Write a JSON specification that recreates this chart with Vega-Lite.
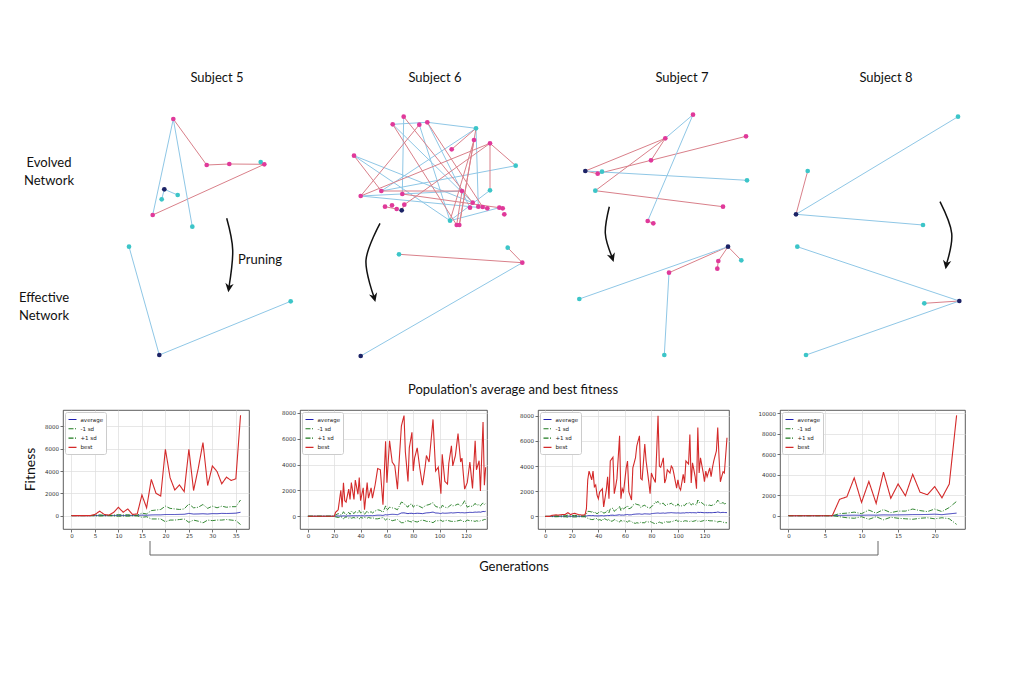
{
"$schema": "https://vega.github.io/schema/vega-lite/v6.json",
"padding": 0,
"background": "white",
"config": {
  "view": {"stroke": null},
  "font": "Lato",
  "axis": {"labelFont": "DejaVu Sans", "labelFontSize": 5.5, "labelColor": "#333333", "tickColor": "#333333", "tickSize": 3, "tickWidth": 0.7, "domain": false, "gridColor": "#dcdcdc", "gridWidth": 0.7, "labelPadding": 1.5},
  "legend": {"orient": "top-left", "offset": 1.5, "fillColor": "white", "strokeColor": "#cccccc", "padding": 2.5, "cornerRadius": 2, "labelFontSize": 5.5, "labelFont": "DejaVu Sans", "labelColor": "#222222", "symbolType": "stroke", "symbolSize": 64, "symbolStrokeWidth": 1.1, "rowPadding": 0.3, "labelOffset": 3}
},
"resolve": {"scale": {"color": "independent", "strokeDash": "independent", "stroke": "independent", "fill": "independent"}},
"datasets": {
  "s5_nodes": [
    {"x":53.3,"y":119,"role":"hidden"},{"x":86.7,"y":165,"role":"hidden"},{"x":109.3,"y":164,"role":"hidden"},
    {"x":140.7,"y":162,"role":"input"},{"x":144.3,"y":164.3,"role":"hidden"},{"x":44.3,"y":189.3,"role":"output"},
    {"x":41.7,"y":199.3,"role":"input"},{"x":57.7,"y":195,"role":"input"},{"x":32.7,"y":215,"role":"hidden"},
    {"x":72.3,"y":226.7,"role":"input"},{"x":9,"y":246.7,"role":"input"},{"x":39.3,"y":355,"role":"output"},
    {"x":170.7,"y":301.3,"role":"input"}
  ],
  "s5_edges": [
    {"x":53.3,"y":119,"x2":86.7,"y2":165,"weight":"positive"},
    {"x":86.7,"y":165,"x2":109.3,"y2":164,"weight":"positive"},
    {"x":109.3,"y":164,"x2":144.3,"y2":164.3,"weight":"positive"},
    {"x":144.3,"y":164.3,"x2":32.7,"y2":215,"weight":"positive"},
    {"x":53.3,"y":119,"x2":32.7,"y2":215,"weight":"negative"},
    {"x":53.3,"y":119,"x2":72.3,"y2":226.7,"weight":"negative"},
    {"x":44.3,"y":189.3,"x2":57.7,"y2":195,"weight":"negative"},
    {"x":44.3,"y":189.3,"x2":41.7,"y2":199.3,"weight":"negative"},
    {"x":140.7,"y":162,"x2":144.3,"y2":164.3,"weight":"negative"},
    {"x":9,"y":246.7,"x2":39.3,"y2":355,"weight":"negative"},
    {"x":39.3,"y":355,"x2":170.7,"y2":301.3,"weight":"negative"}
  ],
  "s5_arrow": [{"i":1,"x":106.7,"y":218.3},{"i":2,"x":112.7,"y":250},{"i":3,"x":109,"y":287}],
  "s6_nodes": [
    {"x":63.7,"y":116.7,"role":"hidden"},{"x":52.7,"y":124.3,"role":"hidden"},{"x":79.3,"y":124.7,"role":"hidden"},
    {"x":87.3,"y":122.3,"role":"hidden"},{"x":134,"y":140,"role":"hidden"},{"x":111.7,"y":149.3,"role":"hidden"},
    {"x":150,"y":143.3,"role":"hidden"},{"x":14,"y":155.7,"role":"hidden"},{"x":20.7,"y":196,"role":"hidden"},
    {"x":41.3,"y":191,"role":"hidden"},{"x":62.3,"y":194,"role":"hidden"},{"x":45,"y":206.7,"role":"hidden"},
    {"x":52,"y":205.3,"role":"hidden"},{"x":56.7,"y":209,"role":"hidden"},{"x":64.3,"y":204.7,"role":"hidden"},
    {"x":122,"y":191,"role":"hidden"},{"x":132.7,"y":202.7,"role":"hidden"},{"x":130,"y":207.7,"role":"hidden"},
    {"x":138.3,"y":206.7,"role":"hidden"},{"x":142.7,"y":207,"role":"hidden"},{"x":147.3,"y":208.3,"role":"hidden"},
    {"x":159.3,"y":207.7,"role":"hidden"},{"x":162.7,"y":208.3,"role":"hidden"},{"x":164.3,"y":214.3,"role":"hidden"},
    {"x":116.7,"y":225,"role":"hidden"},{"x":119.3,"y":225,"role":"hidden"},
    {"x":136,"y":128.3,"role":"input"},{"x":175.7,"y":165.7,"role":"input"},{"x":150,"y":190.3,"role":"input"},
    {"x":110,"y":220.7,"role":"input"},{"x":61.7,"y":210.3,"role":"output"},
    {"x":59,"y":254.3,"role":"input"},{"x":182.3,"y":262.7,"role":"hidden"},{"x":167.7,"y":247.7,"role":"input"},
    {"x":20.7,"y":356,"role":"output"}
  ],
  "s6_edges": [
    {"x":63.7,"y":116.7,"x2":62.3,"y2":194,"weight":"negative"},
    {"x":52.7,"y":124.3,"x2":132.7,"y2":202.7,"weight":"negative"},
    {"x":87.3,"y":122.3,"x2":136,"y2":128.3,"weight":"negative"},
    {"x":136,"y":128.3,"x2":138.3,"y2":206.7,"weight":"negative"},
    {"x":14,"y":155.7,"x2":110,"y2":220.7,"weight":"negative"},
    {"x":14,"y":155.7,"x2":132.7,"y2":202.7,"weight":"negative"},
    {"x":175.7,"y":165.7,"x2":41.3,"y2":191,"weight":"negative"},
    {"x":20.7,"y":196,"x2":122,"y2":191,"weight":"negative"},
    {"x":110,"y":220.7,"x2":150,"y2":190.3,"weight":"negative"},
    {"x":110,"y":220.7,"x2":159.3,"y2":207.7,"weight":"negative"},
    {"x":79.3,"y":124.7,"x2":110,"y2":220.7,"weight":"negative"},
    {"x":87.3,"y":122.3,"x2":130,"y2":207.7,"weight":"negative"},
    {"x":136,"y":128.3,"x2":41.3,"y2":191,"weight":"negative"},
    {"x":20.7,"y":196,"x2":147.3,"y2":208.3,"weight":"negative"},
    {"x":52.7,"y":124.3,"x2":87.3,"y2":122.3,"weight":"negative"},
    {"x":63.7,"y":116.7,"x2":132.7,"y2":202.7,"weight":"positive"},
    {"x":52.7,"y":124.3,"x2":116.7,"y2":225,"weight":"positive"},
    {"x":79.3,"y":124.7,"x2":20.7,"y2":196,"weight":"positive"},
    {"x":14,"y":155.7,"x2":41.3,"y2":191,"weight":"positive"},
    {"x":111.7,"y":149.3,"x2":136,"y2":128.3,"weight":"positive"},
    {"x":150,"y":143.3,"x2":20.7,"y2":196,"weight":"positive"},
    {"x":150,"y":143.3,"x2":175.7,"y2":165.7,"weight":"positive"},
    {"x":150,"y":143.3,"x2":150,"y2":190.3,"weight":"positive"},
    {"x":134,"y":140,"x2":110,"y2":220.7,"weight":"positive"},
    {"x":134,"y":140,"x2":119.3,"y2":225,"weight":"positive"},
    {"x":41.3,"y":191,"x2":122,"y2":191,"weight":"positive"},
    {"x":122,"y":191,"x2":116.7,"y2":225,"weight":"positive"},
    {"x":64.3,"y":204.7,"x2":150,"y2":143.3,"weight":"positive"},
    {"x":62.3,"y":194,"x2":159.3,"y2":207.7,"weight":"positive"},
    {"x":45,"y":206.7,"x2":56.7,"y2":209,"weight":"positive"},
    {"x":61.7,"y":210.3,"x2":64.3,"y2":204.7,"weight":"positive"},
    {"x":87.3,"y":122.3,"x2":142.7,"y2":207,"weight":"positive"},
    {"x":136,"y":128.3,"x2":119.3,"y2":225,"weight":"positive"},
    {"x":59,"y":254.3,"x2":182.3,"y2":262.7,"weight":"positive"},
    {"x":167.7,"y":247.7,"x2":182.3,"y2":262.7,"weight":"positive"},
    {"x":182.3,"y":262.7,"x2":20.7,"y2":356,"weight":"negative"}
  ],
  "s6_arrow": [{"i":1,"x":40,"y":223.3},{"i":2,"x":26,"y":260},{"i":3,"x":34,"y":297}],
  "s7_nodes": [
    {"x":25.3,"y":171,"role":"output"},{"x":37.7,"y":173.7,"role":"hidden"},{"x":42,"y":171.7,"role":"input"},
    {"x":105.3,"y":138.3,"role":"hidden"},{"x":133,"y":114.7,"role":"hidden"},{"x":186,"y":136.3,"role":"hidden"},
    {"x":91,"y":160.3,"role":"hidden"},{"x":187,"y":180.3,"role":"input"},{"x":35.3,"y":190.7,"role":"input"},
    {"x":163,"y":206.7,"role":"hidden"},{"x":87.7,"y":221,"role":"hidden"},{"x":93.3,"y":223.3,"role":"hidden"},
    {"x":168,"y":246.7,"role":"output"},{"x":158.3,"y":261,"role":"hidden"},{"x":157.3,"y":268.7,"role":"hidden"},
    {"x":181.3,"y":260.3,"role":"input"},{"x":109,"y":272.7,"role":"hidden"},{"x":19.3,"y":299,"role":"input"},
    {"x":104.3,"y":355,"role":"input"}
  ],
  "s7_edges": [
    {"x":25.3,"y":171,"x2":105.3,"y2":138.3,"weight":"positive"},
    {"x":25.3,"y":171,"x2":37.7,"y2":173.7,"weight":"positive"},
    {"x":37.7,"y":173.7,"x2":91,"y2":160.3,"weight":"positive"},
    {"x":91,"y":160.3,"x2":186,"y2":136.3,"weight":"positive"},
    {"x":91,"y":160.3,"x2":105.3,"y2":138.3,"weight":"positive"},
    {"x":35.3,"y":190.7,"x2":105.3,"y2":138.3,"weight":"positive"},
    {"x":35.3,"y":190.7,"x2":163,"y2":206.7,"weight":"positive"},
    {"x":133,"y":114.7,"x2":105.3,"y2":138.3,"weight":"negative"},
    {"x":133,"y":114.7,"x2":87.7,"y2":221,"weight":"negative"},
    {"x":25.3,"y":171,"x2":187,"y2":180.3,"weight":"negative"},
    {"x":87.7,"y":221,"x2":93.3,"y2":223.3,"weight":"positive"},
    {"x":168,"y":246.7,"x2":158.3,"y2":261,"weight":"positive"},
    {"x":158.3,"y":261,"x2":157.3,"y2":268.7,"weight":"positive"},
    {"x":168,"y":246.7,"x2":181.3,"y2":260.3,"weight":"positive"},
    {"x":168,"y":246.7,"x2":109,"y2":272.7,"weight":"positive"},
    {"x":168,"y":246.7,"x2":19.3,"y2":299,"weight":"negative"},
    {"x":109,"y":272.7,"x2":104.3,"y2":355,"weight":"negative"}
  ],
  "s7_arrow": [{"i":1,"x":49.3,"y":206.7},{"i":2,"x":45.3,"y":233.3},{"i":3,"x":52,"y":257}],
  "s8_nodes": [
    {"x":178,"y":116.7,"role":"input"},{"x":27.7,"y":171,"role":"input"},{"x":16,"y":214.3,"role":"output"},
    {"x":143,"y":225,"role":"input"},{"x":17.3,"y":246.7,"role":"input"},{"x":179.3,"y":301,"role":"output"},
    {"x":144.3,"y":303.3,"role":"input"},{"x":26,"y":355,"role":"input"}
  ],
  "s8_edges": [
    {"x":16,"y":214.3,"x2":178,"y2":116.7,"weight":"negative"},
    {"x":16,"y":214.3,"x2":27.7,"y2":171,"weight":"positive"},
    {"x":16,"y":214.3,"x2":143,"y2":225,"weight":"negative"},
    {"x":17.3,"y":246.7,"x2":179.3,"y2":301,"weight":"negative"},
    {"x":144.3,"y":303.3,"x2":179.3,"y2":301,"weight":"positive"},
    {"x":26,"y":355,"x2":179.3,"y2":301,"weight":"negative"}
  ],
  "s8_arrow": [{"i":1,"x":160,"y":201.7},{"i":2,"x":171.7,"y":233.3},{"i":3,"x":166.5,"y":264}],
  "bracket": [
    {"x":150,"y":1,"x2":150,"y2":15},
    {"x":150,"y":15,"x2":878,"y2":15},
    {"x":878,"y":1,"x2":878,"y2":15}
  ],
  "c1": [
    {"g":0,"average":0,"-1 sd":0,"+1 sd":0,"best":0},{"g":1,"average":0,"-1 sd":0,"+1 sd":0,"best":0},
    {"g":2,"average":0,"-1 sd":0,"+1 sd":0,"best":0},{"g":3,"average":0,"-1 sd":0,"+1 sd":0,"best":0},
    {"g":4,"average":0,"-1 sd":0,"+1 sd":0,"best":0},{"g":5,"average":5,"-1 sd":-20,"+1 sd":30,"best":100},
    {"g":6,"average":15,"-1 sd":-40,"+1 sd":70,"best":400},{"g":7,"average":5,"-1 sd":-20,"+1 sd":30,"best":100},
    {"g":8,"average":5,"-1 sd":-10,"+1 sd":20,"best":50},{"g":9,"average":10,"-1 sd":-30,"+1 sd":50,"best":300},
    {"g":10,"average":20,"-1 sd":-60,"+1 sd":90,"best":750},{"g":11,"average":10,"-1 sd":-40,"+1 sd":60,"best":300},
    {"g":12,"average":15,"-1 sd":-50,"+1 sd":80,"best":600},{"g":13,"average":5,"-1 sd":-20,"+1 sd":30,"best":100},
    {"g":14,"average":10,"-1 sd":-30,"+1 sd":40,"best":150},{"g":15,"average":40,"-1 sd":-150,"+1 sd":220,"best":1850},
    {"g":16,"average":30,"-1 sd":-100,"+1 sd":150,"best":700},{"g":17,"average":60,"-1 sd":-300,"+1 sd":450,"best":3250},
    {"g":18,"average":70,"-1 sd":-300,"+1 sd":500,"best":2000},{"g":19,"average":70,"-1 sd":-300,"+1 sd":550,"best":1750},
    {"g":20,"average":100,"-1 sd":-550,"+1 sd":850,"best":5950},{"g":21,"average":100,"-1 sd":-400,"+1 sd":650,"best":3400},
    {"g":22,"average":100,"-1 sd":-400,"+1 sd":600,"best":2300},{"g":23,"average":110,"-1 sd":-350,"+1 sd":550,"best":2750},
    {"g":24,"average":120,"-1 sd":-300,"+1 sd":600,"best":2150},{"g":25,"average":200,"-1 sd":-600,"+1 sd":1050,"best":5950},
    {"g":26,"average":140,"-1 sd":-400,"+1 sd":700,"best":2250},{"g":27,"average":150,"-1 sd":-500,"+1 sd":750,"best":4250},
    {"g":28,"average":170,"-1 sd":-650,"+1 sd":1000,"best":6550},{"g":29,"average":140,"-1 sd":-400,"+1 sd":650,"best":2700},
    {"g":30,"average":180,"-1 sd":-450,"+1 sd":850,"best":4450},{"g":31,"average":170,"-1 sd":-400,"+1 sd":700,"best":3950},
    {"g":32,"average":200,"-1 sd":-400,"+1 sd":850,"best":2850},{"g":33,"average":190,"-1 sd":-350,"+1 sd":750,"best":3450},
    {"g":34,"average":200,"-1 sd":-400,"+1 sd":800,"best":3150},{"g":35,"average":220,"-1 sd":-450,"+1 sd":800,"best":3300},
    {"g":36,"average":300,"-1 sd":-800,"+1 sd":1400,"best":9000}
  ],
  "c2": [
    {"g":0,"average":0,"-1 sd":0,"+1 sd":0,"best":0},{"g":10,"average":0,"-1 sd":0,"+1 sd":0,"best":0},
    {"g":20,"average":0,"-1 sd":0,"+1 sd":0,"best":0},{"g":21,"average":10,"-1 sd":-50,"+1 sd":100,"best":300},
    {"g":23,"average":20,"-1 sd":-100,"+1 sd":200,"best":500},{"g":25,"average":10,"-1 sd":-50,"+1 sd":100,"best":2000},
    {"g":26,"average":20,"-1 sd":-80,"+1 sd":150,"best":700},{"g":27,"average":30,"-1 sd":-200,"+1 sd":350,"best":2600},
    {"g":28,"average":20,"-1 sd":-100,"+1 sd":200,"best":1200},{"g":29,"average":10,"-1 sd":-50,"+1 sd":100,"best":1100},
    {"g":31,"average":30,"-1 sd":-150,"+1 sd":300,"best":2100},{"g":32,"average":20,"-1 sd":-100,"+1 sd":150,"best":1300},
    {"g":33,"average":40,"-1 sd":-150,"+1 sd":400,"best":2600},{"g":35,"average":30,"-1 sd":-100,"+1 sd":200,"best":1300},
    {"g":36,"average":40,"-1 sd":-150,"+1 sd":350,"best":2800},{"g":38,"average":30,"-1 sd":-100,"+1 sd":250,"best":1700},
    {"g":39,"average":50,"-1 sd":-200,"+1 sd":450,"best":3000},{"g":40,"average":30,"-1 sd":-100,"+1 sd":250,"best":1200},
    {"g":42,"average":40,"-1 sd":-150,"+1 sd":350,"best":2200},{"g":43,"average":20,"-1 sd":-100,"+1 sd":150,"best":500},
    {"g":45,"average":50,"-1 sd":-150,"+1 sd":400,"best":2600},{"g":46,"average":40,"-1 sd":-100,"+1 sd":250,"best":1400},
    {"g":48,"average":50,"-1 sd":-150,"+1 sd":350,"best":2200},{"g":49,"average":40,"-1 sd":-100,"+1 sd":250,"best":1400},
    {"g":51,"average":60,"-1 sd":-200,"+1 sd":400,"best":2400},{"g":53,"average":80,"-1 sd":-200,"+1 sd":500,"best":3700},
    {"g":55,"average":80,"-1 sd":-150,"+1 sd":450,"best":3600},{"g":57,"average":60,"-1 sd":-100,"+1 sd":300,"best":900},
    {"g":59,"average":120,"-1 sd":-300,"+1 sd":800,"best":5800},{"g":60,"average":100,"-1 sd":-200,"+1 sd":450,"best":2600},
    {"g":62,"average":130,"-1 sd":-250,"+1 sd":700,"best":5850},{"g":64,"average":150,"-1 sd":-350,"+1 sd":650,"best":4200},
    {"g":66,"average":140,"-1 sd":-300,"+1 sd":600,"best":3900},{"g":68,"average":120,"-1 sd":-250,"+1 sd":500,"best":2100},
    {"g":69,"average":160,"-1 sd":-350,"+1 sd":700,"best":3800},{"g":71,"average":250,"-1 sd":-500,"+1 sd":1100,"best":7000},
    {"g":73,"average":260,"-1 sd":-500,"+1 sd":1000,"best":7800},{"g":74,"average":240,"-1 sd":-400,"+1 sd":850,"best":5000},
    {"g":76,"average":200,"-1 sd":-350,"+1 sd":700,"best":2700},{"g":77,"average":220,"-1 sd":-400,"+1 sd":900,"best":5300},
    {"g":79,"average":230,"-1 sd":-450,"+1 sd":950,"best":6500},{"g":80,"average":200,"-1 sd":-300,"+1 sd":700,"best":3500},
    {"g":81,"average":210,"-1 sd":-400,"+1 sd":800,"best":4500},{"g":83,"average":230,"-1 sd":-450,"+1 sd":850,"best":5300},
    {"g":85,"average":220,"-1 sd":-350,"+1 sd":750,"best":3700},{"g":87,"average":200,"-1 sd":-300,"+1 sd":650,"best":2400},
    {"g":89,"average":240,"-1 sd":-350,"+1 sd":800,"best":3800},{"g":90,"average":260,"-1 sd":-400,"+1 sd":850,"best":4700},
    {"g":92,"average":270,"-1 sd":-400,"+1 sd":900,"best":4200},{"g":95,"average":320,"-1 sd":-500,"+1 sd":1050,"best":7500},
    {"g":97,"average":250,"-1 sd":-350,"+1 sd":750,"best":3500},{"g":99,"average":240,"-1 sd":-350,"+1 sd":700,"best":3800},
    {"g":101,"average":200,"-1 sd":-300,"+1 sd":600,"best":1750},{"g":102,"average":250,"-1 sd":-400,"+1 sd":850,"best":4800},
    {"g":104,"average":230,"-1 sd":-350,"+1 sd":700,"best":2700},{"g":106,"average":240,"-1 sd":-300,"+1 sd":650,"best":2500},
    {"g":107,"average":250,"-1 sd":-350,"+1 sd":750,"best":4100},{"g":109,"average":270,"-1 sd":-400,"+1 sd":900,"best":5450},
    {"g":110,"average":250,"-1 sd":-400,"+1 sd":800,"best":3900},{"g":112,"average":270,"-1 sd":-400,"+1 sd":850,"best":4700},
    {"g":114,"average":290,"-1 sd":-350,"+1 sd":950,"best":6400},{"g":116,"average":270,"-1 sd":-300,"+1 sd":800,"best":4200},
    {"g":117,"average":280,"-1 sd":-350,"+1 sd":850,"best":4500},{"g":119,"average":260,"-1 sd":-450,"+1 sd":1200,"best":2100},
    {"g":121,"average":280,"-1 sd":-300,"+1 sd":700,"best":2600},{"g":123,"average":300,"-1 sd":-350,"+1 sd":800,"best":4200},
    {"g":125,"average":290,"-1 sd":-350,"+1 sd":750,"best":2150},{"g":127,"average":320,"-1 sd":-400,"+1 sd":1000,"best":5850},
    {"g":128,"average":310,"-1 sd":-350,"+1 sd":850,"best":3600},{"g":130,"average":330,"-1 sd":-400,"+1 sd":900,"best":4300},
    {"g":131,"average":310,"-1 sd":-350,"+1 sd":800,"best":1950},{"g":133,"average":370,"-1 sd":-300,"+1 sd":1050,"best":7300},
    {"g":134,"average":360,"-1 sd":-250,"+1 sd":900,"best":2400},{"g":135,"average":380,"-1 sd":-250,"+1 sd":1000,"best":3800}
  ],
  "c3": [
    {"g":0,"average":0,"-1 sd":0,"+1 sd":0,"best":0},{"g":3,"average":0,"-1 sd":0,"+1 sd":0,"best":0},
    {"g":5,"average":5,"-1 sd":-20,"+1 sd":30,"best":80},{"g":8,"average":10,"-1 sd":-30,"+1 sd":50,"best":120},
    {"g":10,"average":5,"-1 sd":-20,"+1 sd":30,"best":100},{"g":13,"average":10,"-1 sd":-40,"+1 sd":60,"best":150},
    {"g":15,"average":10,"-1 sd":-30,"+1 sd":50,"best":150},{"g":17,"average":20,"-1 sd":-60,"+1 sd":100,"best":300},
    {"g":19,"average":10,"-1 sd":-30,"+1 sd":50,"best":150},{"g":22,"average":15,"-1 sd":-50,"+1 sd":80,"best":250},
    {"g":25,"average":10,"-1 sd":-30,"+1 sd":50,"best":150},{"g":28,"average":10,"-1 sd":-30,"+1 sd":40,"best":100},
    {"g":30,"average":10,"-1 sd":-30,"+1 sd":50,"best":150},{"g":31,"average":30,"-1 sd":-100,"+1 sd":200,"best":600},
    {"g":32,"average":60,"-1 sd":-150,"+1 sd":400,"best":2900},{"g":33,"average":70,"-1 sd":-200,"+1 sd":400,"best":3600},
    {"g":35,"average":60,"-1 sd":-250,"+1 sd":350,"best":2900},{"g":36,"average":70,"-1 sd":-250,"+1 sd":400,"best":3600},
    {"g":37,"average":50,"-1 sd":-200,"+1 sd":250,"best":2350},{"g":38,"average":50,"-1 sd":-200,"+1 sd":300,"best":2500},
    {"g":39,"average":40,"-1 sd":-150,"+1 sd":200,"best":1700},{"g":40,"average":40,"-1 sd":-300,"+1 sd":300,"best":1400},
    {"g":41,"average":50,"-1 sd":-250,"+1 sd":350,"best":1950},{"g":43,"average":60,"-1 sd":-350,"+1 sd":400,"best":2200},
    {"g":44,"average":40,"-1 sd":-150,"+1 sd":250,"best":750},{"g":46,"average":60,"-1 sd":-250,"+1 sd":350,"best":2100},
    {"g":47,"average":80,"-1 sd":-300,"+1 sd":500,"best":3150},{"g":48,"average":60,"-1 sd":-200,"+1 sd":300,"best":1400},
    {"g":49,"average":90,"-1 sd":-400,"+1 sd":600,"best":4400},{"g":51,"average":100,"-1 sd":-350,"+1 sd":650,"best":4700},
    {"g":52,"average":80,"-1 sd":-250,"+1 sd":400,"best":1800},{"g":53,"average":90,"-1 sd":-300,"+1 sd":500,"best":2350},
    {"g":54,"average":100,"-1 sd":-350,"+1 sd":550,"best":3000},{"g":56,"average":130,"-1 sd":-450,"+1 sd":800,"best":6400},
    {"g":57,"average":100,"-1 sd":-300,"+1 sd":450,"best":1400},{"g":58,"average":110,"-1 sd":-400,"+1 sd":700,"best":2200},
    {"g":59,"average":100,"-1 sd":-350,"+1 sd":600,"best":1950},{"g":61,"average":140,"-1 sd":-400,"+1 sd":750,"best":3850},
    {"g":62,"average":150,"-1 sd":-450,"+1 sd":850,"best":4400},{"g":63,"average":120,"-1 sd":-350,"+1 sd":600,"best":1950},
    {"g":65,"average":130,"-1 sd":-400,"+1 sd":700,"best":1300},{"g":66,"average":160,"-1 sd":-500,"+1 sd":900,"best":3850},
    {"g":68,"average":180,"-1 sd":-550,"+1 sd":1000,"best":4650},{"g":69,"average":190,"-1 sd":-500,"+1 sd":950,"best":5600},
    {"g":71,"average":200,"-1 sd":-550,"+1 sd":900,"best":6400},{"g":72,"average":180,"-1 sd":-450,"+1 sd":700,"best":3000},
    {"g":73,"average":170,"-1 sd":-500,"+1 sd":800,"best":2900},{"g":75,"average":210,"-1 sd":-500,"+1 sd":900,"best":5750},
    {"g":76,"average":200,"-1 sd":-400,"+1 sd":750,"best":4400},{"g":78,"average":190,"-1 sd":-450,"+1 sd":700,"best":2750},
    {"g":79,"average":180,"-1 sd":-400,"+1 sd":650,"best":1800},{"g":80,"average":220,"-1 sd":-450,"+1 sd":800,"best":3450},
    {"g":81,"average":230,"-1 sd":-500,"+1 sd":850,"best":3150},{"g":83,"average":250,"-1 sd":-600,"+1 sd":1150,"best":2700},
    {"g":84,"average":260,"-1 sd":-550,"+1 sd":1100,"best":5200},{"g":85,"average":270,"-1 sd":-500,"+1 sd":1200,"best":8000},
    {"g":86,"average":250,"-1 sd":-450,"+1 sd":1000,"best":4000},{"g":87,"average":250,"-1 sd":-500,"+1 sd":1000,"best":3900},
    {"g":89,"average":270,"-1 sd":-550,"+1 sd":1050,"best":4650},{"g":90,"average":250,"-1 sd":-450,"+1 sd":900,"best":2650},
    {"g":91,"average":260,"-1 sd":-400,"+1 sd":850,"best":3000},{"g":92,"average":280,"-1 sd":-450,"+1 sd":950,"best":3700},
    {"g":94,"average":290,"-1 sd":-450,"+1 sd":1000,"best":3450},{"g":95,"average":300,"-1 sd":-400,"+1 sd":1050,"best":4000},
    {"g":96,"average":290,"-1 sd":-400,"+1 sd":950,"best":3850},{"g":97,"average":280,"-1 sd":-350,"+1 sd":900,"best":3350},
    {"g":99,"average":270,"-1 sd":-300,"+1 sd":800,"best":2250},{"g":100,"average":280,"-1 sd":-400,"+1 sd":1000,"best":2900},
    {"g":101,"average":270,"-1 sd":-350,"+1 sd":850,"best":2300},{"g":102,"average":260,"-1 sd":-400,"+1 sd":800,"best":2100},
    {"g":104,"average":280,"-1 sd":-400,"+1 sd":900,"best":3350},{"g":105,"average":270,"-1 sd":-350,"+1 sd":850,"best":2650},
    {"g":106,"average":300,"-1 sd":-350,"+1 sd":1000,"best":4400},{"g":108,"average":290,"-1 sd":-400,"+1 sd":1050,"best":4150},
    {"g":109,"average":310,"-1 sd":-400,"+1 sd":1100,"best":6500},{"g":110,"average":290,"-1 sd":-350,"+1 sd":900,"best":2650},
    {"g":111,"average":300,"-1 sd":-400,"+1 sd":1000,"best":4250},{"g":113,"average":290,"-1 sd":-350,"+1 sd":950,"best":3150},
    {"g":114,"average":280,"-1 sd":-300,"+1 sd":900,"best":2200},{"g":115,"average":330,"-1 sd":-400,"+1 sd":1300,"best":7050},
    {"g":116,"average":310,"-1 sd":-350,"+1 sd":1100,"best":3450},{"g":117,"average":320,"-1 sd":-400,"+1 sd":1150,"best":4650},
    {"g":119,"average":300,"-1 sd":-350,"+1 sd":1000,"best":3500},{"g":120,"average":290,"-1 sd":-300,"+1 sd":900,"best":2750},
    {"g":121,"average":300,"-1 sd":-350,"+1 sd":950,"best":3600},{"g":122,"average":290,"-1 sd":-300,"+1 sd":850,"best":3150},
    {"g":124,"average":300,"-1 sd":-350,"+1 sd":900,"best":3850},{"g":125,"average":290,"-1 sd":-350,"+1 sd":850,"best":3150},
    {"g":126,"average":300,"-1 sd":-350,"+1 sd":900,"best":3850},{"g":127,"average":310,"-1 sd":-350,"+1 sd":900,"best":4400},
    {"g":129,"average":320,"-1 sd":-400,"+1 sd":1100,"best":5200},{"g":130,"average":350,"-1 sd":-450,"+1 sd":1300,"best":7050},
    {"g":131,"average":330,"-1 sd":-400,"+1 sd":1150,"best":4650},{"g":132,"average":300,"-1 sd":-400,"+1 sd":1000,"best":2750},
    {"g":134,"average":320,"-1 sd":-450,"+1 sd":1100,"best":3550},{"g":135,"average":310,"-1 sd":-500,"+1 sd":1000,"best":3450},
    {"g":137,"average":300,"-1 sd":-500,"+1 sd":1050,"best":6250}
  ],
  "c4": [
    {"g":0,"average":0,"-1 sd":0,"+1 sd":0,"best":0},{"g":1,"average":0,"-1 sd":0,"+1 sd":0,"best":0},
    {"g":2,"average":0,"-1 sd":0,"+1 sd":0,"best":0},{"g":3,"average":0,"-1 sd":0,"+1 sd":0,"best":0},
    {"g":4,"average":0,"-1 sd":0,"+1 sd":0,"best":0},{"g":5,"average":0,"-1 sd":0,"+1 sd":0,"best":0},
    {"g":6,"average":0,"-1 sd":0,"+1 sd":0,"best":0},{"g":7,"average":30,"-1 sd":-100,"+1 sd":200,"best":1600},
    {"g":8,"average":40,"-1 sd":-200,"+1 sd":250,"best":1850},{"g":9,"average":50,"-1 sd":-250,"+1 sd":350,"best":3700},
    {"g":10,"average":40,"-1 sd":-100,"+1 sd":200,"best":1300},{"g":11,"average":60,"-1 sd":-350,"+1 sd":550,"best":3350},
    {"g":12,"average":50,"-1 sd":-100,"+1 sd":250,"best":1200},{"g":13,"average":80,"-1 sd":-400,"+1 sd":600,"best":4250},
    {"g":14,"average":70,"-1 sd":-150,"+1 sd":300,"best":1700},{"g":15,"average":80,"-1 sd":-250,"+1 sd":450,"best":3100},
    {"g":16,"average":90,"-1 sd":-300,"+1 sd":450,"best":1950},{"g":17,"average":110,"-1 sd":-350,"+1 sd":650,"best":4050},
    {"g":18,"average":110,"-1 sd":-250,"+1 sd":500,"best":2300},{"g":19,"average":120,"-1 sd":-200,"+1 sd":400,"best":2050},
    {"g":20,"average":150,"-1 sd":-300,"+1 sd":650,"best":2850},{"g":21,"average":100,"-1 sd":-200,"+1 sd":400,"best":1750},
    {"g":22,"average":180,"-1 sd":-300,"+1 sd":800,"best":3100},{"g":23,"average":250,"-1 sd":-850,"+1 sd":1400,"best":9800}
  ]
},
"vconcat": [
  {
    "hconcat": [
      {
        "width": 110, "height": 370,
        "data": {"values": [{"x":49,"y":163,"label":"Evolved\nNetwork"},{"x":44,"y":298,"label":"Effective\nNetwork"}]},
        "mark": {"type": "text", "fontSize": 13, "lineBreak": "\n", "lineHeight": 17.5, "font": "Lato", "color": "#111111", "align": "center", "baseline": "middle"},
        "encoding": {
          "x": {"field": "x", "type": "quantitative", "scale": {"domain": [0, 110], "nice": false, "zero": false}, "axis": null},
          "y": {"field": "y", "type": "quantitative", "scale": {"domain": [0, 370], "nice": false, "zero": false, "reverse": true}, "axis": null},
          "text": {"field": "label"}
        }
      },
      {
        "width": 210, "height": 370,
        "encoding": {
          "x": {"field": "x", "type": "quantitative", "scale": {"domain": [0, 210], "nice": false, "zero": false}, "axis": null},
          "y": {"field": "y", "type": "quantitative", "scale": {"domain": [0, 370], "nice": false, "zero": false, "reverse": true}, "axis": null}
        },
        "layer": [
          {"data": {"name": "s5_edges"}, "mark": {"type": "rule", "strokeWidth": 1}, "encoding": {"x2": {"field": "x2"}, "y2": {"field": "y2"}, "stroke": {"field": "weight", "type": "nominal", "scale": {"domain": ["positive", "negative"], "range": ["#d9808a", "#8fc7e6"]}, "legend": null}}},
          {"data": {"name": "s5_nodes"}, "mark": {"type": "point", "filled": true, "size": 22, "opacity": 1}, "encoding": {"fill": {"field": "role", "type": "nominal", "scale": {"domain": ["input", "hidden", "output"], "range": ["#3cc5c8", "#e0399a", "#1c2366"]}, "legend": null}}},
          {"data": {"name": "s5_arrow"}, "mark": {"type": "line", "interpolate": "cardinal", "color": "#111111", "strokeWidth": 1.5}, "encoding": {"order": {"field": "i", "type": "quantitative"}}},
          {"data": {"name": "s5_arrow"}, "transform": [{"filter": "datum.i === 3"}], "mark": {"type": "point", "shape": "M0,1L-0.8,-0.7L0,-0.2L0.8,-0.7Z", "filled": true, "color": "#111111", "size": 110, "angle": 8, "opacity": 1}},
          {"data": {"values": [{"x": 97, "y": 78, "label": "Subject 5"}]}, "mark": {"type": "text", "fontSize": 13, "font": "Lato", "color": "#111111", "align": "center", "baseline": "middle"}, "encoding": {"text": {"field": "label"}}},
          {"data": {"values": [{"x": 118, "y": 260, "label": "Pruning"}]}, "mark": {"type": "text", "fontSize": 13, "font": "Lato", "color": "#111111", "align": "left", "baseline": "middle"}, "encoding": {"text": {"field": "label"}}}
        ]
      },
      {
        "width": 210, "height": 370,
        "encoding": {
          "x": {"field": "x", "type": "quantitative", "scale": {"domain": [0, 210], "nice": false, "zero": false}, "axis": null},
          "y": {"field": "y", "type": "quantitative", "scale": {"domain": [0, 370], "nice": false, "zero": false, "reverse": true}, "axis": null}
        },
        "layer": [
          {"data": {"name": "s6_edges"}, "mark": {"type": "rule", "strokeWidth": 1}, "encoding": {"x2": {"field": "x2"}, "y2": {"field": "y2"}, "stroke": {"field": "weight", "type": "nominal", "scale": {"domain": ["positive", "negative"], "range": ["#d9808a", "#8fc7e6"]}, "legend": null}}},
          {"data": {"name": "s6_nodes"}, "mark": {"type": "point", "filled": true, "size": 22, "opacity": 1}, "encoding": {"fill": {"field": "role", "type": "nominal", "scale": {"domain": ["input", "hidden", "output"], "range": ["#3cc5c8", "#e0399a", "#1c2366"]}, "legend": null}}},
          {"data": {"name": "s6_arrow"}, "mark": {"type": "line", "interpolate": "cardinal", "color": "#111111", "strokeWidth": 1.5}, "encoding": {"order": {"field": "i", "type": "quantitative"}}},
          {"data": {"name": "s6_arrow"}, "transform": [{"filter": "datum.i === 3"}], "mark": {"type": "point", "shape": "M0,1L-0.8,-0.7L0,-0.2L0.8,-0.7Z", "filled": true, "color": "#111111", "size": 110, "angle": -15, "opacity": 1}},
          {"data": {"values": [{"x": 95, "y": 78, "label": "Subject 6"}]}, "mark": {"type": "text", "fontSize": 13, "font": "Lato", "color": "#111111", "align": "center", "baseline": "middle"}, "encoding": {"text": {"field": "label"}}}
        ]
      },
      {
        "width": 210, "height": 370,
        "encoding": {
          "x": {"field": "x", "type": "quantitative", "scale": {"domain": [0, 210], "nice": false, "zero": false}, "axis": null},
          "y": {"field": "y", "type": "quantitative", "scale": {"domain": [0, 370], "nice": false, "zero": false, "reverse": true}, "axis": null}
        },
        "layer": [
          {"data": {"name": "s7_edges"}, "mark": {"type": "rule", "strokeWidth": 1}, "encoding": {"x2": {"field": "x2"}, "y2": {"field": "y2"}, "stroke": {"field": "weight", "type": "nominal", "scale": {"domain": ["positive", "negative"], "range": ["#d9808a", "#8fc7e6"]}, "legend": null}}},
          {"data": {"name": "s7_nodes"}, "mark": {"type": "point", "filled": true, "size": 22, "opacity": 1}, "encoding": {"fill": {"field": "role", "type": "nominal", "scale": {"domain": ["input", "hidden", "output"], "range": ["#3cc5c8", "#e0399a", "#1c2366"]}, "legend": null}}},
          {"data": {"name": "s7_arrow"}, "mark": {"type": "line", "interpolate": "cardinal", "color": "#111111", "strokeWidth": 1.5}, "encoding": {"order": {"field": "i", "type": "quantitative"}}},
          {"data": {"name": "s7_arrow"}, "transform": [{"filter": "datum.i === 3"}], "mark": {"type": "point", "shape": "M0,1L-0.8,-0.7L0,-0.2L0.8,-0.7Z", "filled": true, "color": "#111111", "size": 110, "angle": -18, "opacity": 1}},
          {"data": {"values": [{"x": 122, "y": 78, "label": "Subject 7"}]}, "mark": {"type": "text", "fontSize": 13, "font": "Lato", "color": "#111111", "align": "center", "baseline": "middle"}, "encoding": {"text": {"field": "label"}}}
        ]
      },
      {
        "width": 210, "height": 370,
        "encoding": {
          "x": {"field": "x", "type": "quantitative", "scale": {"domain": [0, 210], "nice": false, "zero": false}, "axis": null},
          "y": {"field": "y", "type": "quantitative", "scale": {"domain": [0, 370], "nice": false, "zero": false, "reverse": true}, "axis": null}
        },
        "layer": [
          {"data": {"name": "s8_edges"}, "mark": {"type": "rule", "strokeWidth": 1}, "encoding": {"x2": {"field": "x2"}, "y2": {"field": "y2"}, "stroke": {"field": "weight", "type": "nominal", "scale": {"domain": ["positive", "negative"], "range": ["#d9808a", "#8fc7e6"]}, "legend": null}}},
          {"data": {"name": "s8_nodes"}, "mark": {"type": "point", "filled": true, "size": 22, "opacity": 1}, "encoding": {"fill": {"field": "role", "type": "nominal", "scale": {"domain": ["input", "hidden", "output"], "range": ["#3cc5c8", "#e0399a", "#1c2366"]}, "legend": null}}},
          {"data": {"name": "s8_arrow"}, "mark": {"type": "line", "interpolate": "cardinal", "color": "#111111", "strokeWidth": 1.5}, "encoding": {"order": {"field": "i", "type": "quantitative"}}},
          {"data": {"name": "s8_arrow"}, "transform": [{"filter": "datum.i === 3"}], "mark": {"type": "point", "shape": "M0,1L-0.8,-0.7L0,-0.2L0.8,-0.7Z", "filled": true, "color": "#111111", "size": 110, "angle": 10, "opacity": 1}},
          {"data": {"values": [{"x": 106, "y": 78, "label": "Subject 8"}]}, "mark": {"type": "text", "fontSize": 13, "font": "Lato", "color": "#111111", "align": "center", "baseline": "middle"}, "encoding": {"text": {"field": "label"}}}
        ]
      }
    ],
    "spacing": 10,
    "bounds": "flush"
  },
  {
    "width": 965, "height": 39,
    "data": {"values": [{"x": 513, "y": 20, "label": "Population's average and best fitness"}]},
    "mark": {"type": "text", "fontSize": 13, "font": "Lato", "color": "#111111", "align": "center", "baseline": "middle"},
    "encoding": {
      "x": {"field": "x", "type": "quantitative", "scale": {"domain": [0, 965], "nice": false, "zero": false}, "axis": null},
      "y": {"field": "y", "type": "quantitative", "scale": {"domain": [0, 39], "nice": false, "zero": false, "reverse": true}, "axis": null},
      "text": {"field": "label"}
    }
  },
  {
    "hconcat": [
      {"width": 12, "height": 119, "data": {"values": [{"t": ""}]}, "mark": {"type": "text"}, "encoding": {"text": {"field": "t"}}},
      {
        "width": 186, "height": 119,
        "view": {"stroke": "#333333", "strokeWidth": 0.8},
        "data": {"name": "c1"},
        "transform": [{"fold": ["average", "-1 sd", "+1 sd", "best"], "as": ["s", "v"]}],
        "encoding": {
          "x": {"field": "g", "type": "quantitative", "scale": {"domain": [-1.8, 37.8], "nice": false, "zero": false}, "axis": {"values": [0, 5, 10, 15, 20, 25, 30, 35], "title": null}},
          "y": {"field": "v", "type": "quantitative", "scale": {"domain": [-1200, 9470], "nice": false, "zero": false}, "axis": {"values": [0, 2000, 4000, 6000, 8000], "format": "d", "title": "Fitness", "titleFontSize": 14, "titleFont": "Lato", "titleFontWeight": "normal", "titleColor": "#111111", "titleX": -33, "titleY": 59, "titleAngle": -90, "titleAlign": "center", "titleBaseline": "middle"}},
          "color": {"field": "s", "type": "nominal", "scale": {"domain": ["average", "-1 sd", "+1 sd", "best"], "range": ["#1f1fb0", "#1e7a1e", "#1e7a1e", "#d42a2a"]}, "legend": {"title": null}},
          "strokeDash": {"field": "s", "type": "nominal", "scale": {"domain": ["average", "-1 sd", "+1 sd", "best"], "range": [[1, 0], [5, 1.5, 1, 1.5], [5, 1.5, 1, 1.5], [1, 0]]}, "legend": {"title": null}}
        },
        "layer": [
          {"transform": [{"filter": "datum.s !== 'best'"}], "mark": {"type": "line", "strokeWidth": 0.9, "clip": true}},
          {"transform": [{"filter": "datum.s === 'best'"}], "mark": {"type": "line", "strokeWidth": 1.1, "clip": true}}
        ]
      },
      {
        "width": 187, "height": 119,
        "view": {"stroke": "#333333", "strokeWidth": 0.8},
        "data": {"name": "c2"},
        "transform": [{"fold": ["average", "-1 sd", "+1 sd", "best"], "as": ["s", "v"]}],
        "encoding": {
          "x": {"field": "g", "type": "quantitative", "scale": {"domain": [-6, 136], "nice": false, "zero": false}, "axis": {"values": [0, 20, 40, 60, 80, 100, 120], "title": null}},
          "y": {"field": "v", "type": "quantitative", "scale": {"domain": [-990, 8230], "nice": false, "zero": false}, "axis": {"values": [0, 2000, 4000, 6000, 8000], "format": "d", "title": null}},
          "color": {"field": "s", "type": "nominal", "scale": {"domain": ["average", "-1 sd", "+1 sd", "best"], "range": ["#1f1fb0", "#1e7a1e", "#1e7a1e", "#d42a2a"]}, "legend": {"title": null}},
          "strokeDash": {"field": "s", "type": "nominal", "scale": {"domain": ["average", "-1 sd", "+1 sd", "best"], "range": [[1, 0], [5, 1.5, 1, 1.5], [5, 1.5, 1, 1.5], [1, 0]]}, "legend": {"title": null}}
        },
        "layer": [
          {"transform": [{"filter": "datum.s !== 'best'"}], "mark": {"type": "line", "strokeWidth": 0.9, "clip": true}},
          {"transform": [{"filter": "datum.s === 'best'"}], "mark": {"type": "line", "strokeWidth": 1.1, "clip": true}}
        ]
      },
      {
        "width": 191, "height": 119,
        "view": {"stroke": "#333333", "strokeWidth": 0.8},
        "data": {"name": "c3"},
        "transform": [{"fold": ["average", "-1 sd", "+1 sd", "best"], "as": ["s", "v"]}],
        "encoding": {
          "x": {"field": "g", "type": "quantitative", "scale": {"domain": [-5.5, 138.5], "nice": false, "zero": false}, "axis": {"values": [0, 20, 40, 60, 80, 100, 120], "title": null}},
          "y": {"field": "v", "type": "quantitative", "scale": {"domain": [-1000, 8450], "nice": false, "zero": false}, "axis": {"values": [0, 2000, 4000, 6000, 8000], "format": "d", "title": null}},
          "color": {"field": "s", "type": "nominal", "scale": {"domain": ["average", "-1 sd", "+1 sd", "best"], "range": ["#1f1fb0", "#1e7a1e", "#1e7a1e", "#d42a2a"]}, "legend": {"title": null}},
          "strokeDash": {"field": "s", "type": "nominal", "scale": {"domain": ["average", "-1 sd", "+1 sd", "best"], "range": [[1, 0], [5, 1.5, 1, 1.5], [5, 1.5, 1, 1.5], [1, 0]]}, "legend": {"title": null}}
        },
        "layer": [
          {"transform": [{"filter": "datum.s !== 'best'"}], "mark": {"type": "line", "strokeWidth": 0.9, "clip": true}},
          {"transform": [{"filter": "datum.s === 'best'"}], "mark": {"type": "line", "strokeWidth": 1.1, "clip": true}}
        ]
      },
      {
        "width": 185, "height": 119,
        "view": {"stroke": "#333333", "strokeWidth": 0.8},
        "data": {"name": "c4"},
        "transform": [{"fold": ["average", "-1 sd", "+1 sd", "best"], "as": ["s", "v"]}],
        "encoding": {
          "x": {"field": "g", "type": "quantitative", "scale": {"domain": [-1.15, 24.15], "nice": false, "zero": false}, "axis": {"values": [0, 5, 10, 15, 20], "title": null}},
          "y": {"field": "v", "type": "quantitative", "scale": {"domain": [-1300, 10330], "nice": false, "zero": false}, "axis": {"values": [0, 2000, 4000, 6000, 8000, 10000], "format": "d", "title": null}},
          "color": {"field": "s", "type": "nominal", "scale": {"domain": ["average", "-1 sd", "+1 sd", "best"], "range": ["#1f1fb0", "#1e7a1e", "#1e7a1e", "#d42a2a"]}, "legend": {"title": null}},
          "strokeDash": {"field": "s", "type": "nominal", "scale": {"domain": ["average", "-1 sd", "+1 sd", "best"], "range": [[1, 0], [5, 1.5, 1, 1.5], [5, 1.5, 1, 1.5], [1, 0]]}, "legend": {"title": null}}
        },
        "layer": [
          {"transform": [{"filter": "datum.s !== 'best'"}], "mark": {"type": "line", "strokeWidth": 0.9, "clip": true}},
          {"transform": [{"filter": "datum.s === 'best'"}], "mark": {"type": "line", "strokeWidth": 1.1, "clip": true}}
        ]
      }
    ],
    "spacing": 51,
    "bounds": "flush",
    "resolve": {"scale": {"color": "independent", "strokeDash": "independent"}}
  },
  {
    "width": 965, "height": 42,
    "encoding": {
      "x": {"field": "x", "type": "quantitative", "scale": {"domain": [0, 965], "nice": false, "zero": false}, "axis": null},
      "y": {"field": "y", "type": "quantitative", "scale": {"domain": [0, 42], "nice": false, "zero": false, "reverse": true}, "axis": null}
    },
    "layer": [
      {"data": {"name": "bracket"}, "mark": {"type": "rule", "color": "#666666", "strokeWidth": 1}, "encoding": {"x2": {"field": "x2"}, "y2": {"field": "y2"}}},
      {"data": {"values": [{"x": 514, "y": 27, "label": "Generations"}]}, "mark": {"type": "text", "fontSize": 13, "font": "Lato", "color": "#111111", "align": "center", "baseline": "middle"}, "encoding": {"text": {"field": "label"}}}
    ]
  }
],
"spacing": 0
}
